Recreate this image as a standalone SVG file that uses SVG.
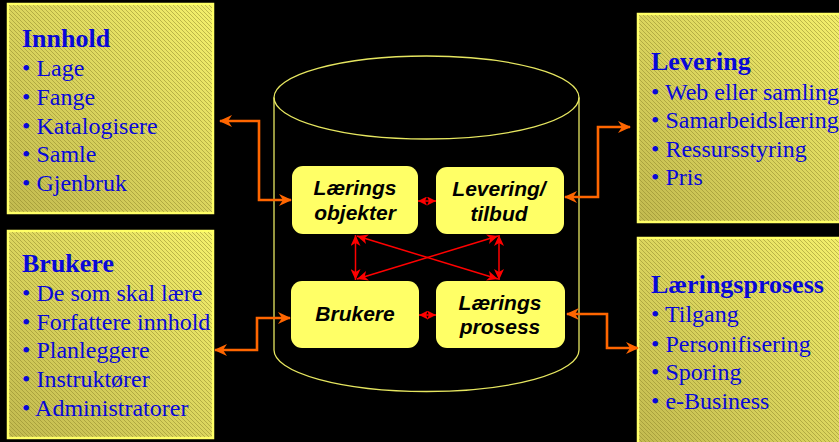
<svg xmlns="http://www.w3.org/2000/svg" width="839" height="442" viewBox="0 0 839 442">
<style>
.panel{stroke:#FFFF66;stroke-width:2.5}
.hatch{stroke:none}
.ttl{font-family:"Liberation Serif","Times New Roman",serif;font-weight:bold;font-size:26px;fill:#0808D8}
.itm{font-family:"Liberation Serif","Times New Roman",serif;font-size:24px;fill:#0808D8}
.node{fill:#FFFF66;stroke:none}
.lbl{font-family:"Liberation Sans",Arial,sans-serif;font-weight:bold;font-style:italic;font-size:21px;fill:#000;text-anchor:middle}
.cyl{fill:none;stroke:#E6E660;stroke-width:1.3}
.org{fill:none;stroke:#FF6600;stroke-width:2.6;marker-start:url(#ao);marker-end:url(#ao)}
.red{fill:none;stroke:#FF0000;stroke-width:1.5;marker-start:url(#ar);marker-end:url(#ar)}
.reds{fill:none;stroke:#FF0000;stroke-width:1.5;marker-start:url(#as);marker-end:url(#as)}
</style>
<defs>
<linearGradient id="g" x1="1" y1="0" x2="0" y2="1">
<stop offset="0" stop-color="#F4F06C"/>
<stop offset="1" stop-color="#C2BA50"/>
</linearGradient>
<pattern id="h" patternUnits="userSpaceOnUse" width="4" height="4">
<path d="M-1,-1 L5,5 M-1,3 L1,5 M3,-1 L5,1" stroke="#8C8428" stroke-opacity="0.5" stroke-width="1"/>
</pattern>
<marker id="ao" viewBox="0 0 13 12" refX="12" refY="6" markerWidth="13" markerHeight="12" markerUnits="userSpaceOnUse" orient="auto-start-reverse">
<path d="M0,0 L13,6 L0,12 L4,6 z" fill="#FF6600"/>
</marker>
<marker id="ar" viewBox="0 0 11 10" refX="11" refY="5" markerWidth="11" markerHeight="10" markerUnits="userSpaceOnUse" orient="auto-start-reverse">
<path d="M0,0 L11,5 L0,10 L3,5 z" fill="#FF0000"/>
</marker>
<marker id="as" viewBox="0 0 9 9" refX="9" refY="4.5" markerWidth="9" markerHeight="9" markerUnits="userSpaceOnUse" orient="auto-start-reverse">
<path d="M0,0 L9,4.5 L0,9 L2,4.5 z" fill="#FF0000"/>
</marker>
</defs>
<rect x="0" y="0" width="839" height="442" fill="#000"/>

<g id="cylinder">
<ellipse class="cyl" cx="426.5" cy="97.5" rx="152.5" ry="41.5"/>
<path class="cyl" d="M274,97.5 V350 A152.5,41.5 0 0 0 579,350 V97.5"/>
</g>

<g id="innhold">
<rect x="8" y="4" width="205" height="209" fill="url(#g)" class="panel"/>
<rect x="9" y="5" width="203" height="207" fill="url(#h)" class="hatch"/>
<text class="ttl" x="22" y="47">Innhold</text>
<text class="itm" x="22" y="76">• Lage</text>
<text class="itm" x="22" y="105">• Fange</text>
<text class="itm" x="22" y="133.5">• Katalogisere</text>
<text class="itm" x="22" y="162">• Samle</text>
<text class="itm" x="22" y="191">• Gjenbruk</text>
</g>

<g id="brukere-panel">
<rect x="8" y="231" width="205" height="207" fill="url(#g)" class="panel"/>
<rect x="9" y="232" width="203" height="205" fill="url(#h)" class="hatch"/>
<text class="ttl" x="22" y="272">Brukere</text>
<text class="itm" x="22" y="301">• De som skal lære</text>
<text class="itm" x="22" y="329.5">• Forfattere innhold</text>
<text class="itm" x="22" y="358.3">• Planleggere</text>
<text class="itm" x="22" y="387">• Instruktører</text>
<text class="itm" x="22" y="416">• Administratorer</text>
</g>

<g id="levering-panel">
<rect x="638" y="14" width="210" height="208" fill="url(#g)" class="panel"/>
<rect x="639" y="15" width="208" height="206" fill="url(#h)" class="hatch"/>
<text class="ttl" x="651" y="70">Levering</text>
<text class="itm" x="651" y="100">• Web eller samling</text>
<text class="itm" x="651" y="128.3">• Samarbeidslæring</text>
<text class="itm" x="651" y="156.7">• Ressursstyring</text>
<text class="itm" x="651" y="185">• Pris</text>
</g>

<g id="laeringsprosess-panel">
<rect x="638" y="238" width="210" height="212" fill="url(#g)" class="panel"/>
<rect x="639" y="239" width="208" height="210" fill="url(#h)" class="hatch"/>
<text class="ttl" x="651" y="293.3">Læringsprosess</text>
<text class="itm" x="651" y="322.3">• Tilgang</text>
<text class="itm" x="651" y="351.7">• Personifisering</text>
<text class="itm" x="651" y="380">• Sporing</text>
<text class="itm" x="651" y="409">• e-Business</text>
</g>

<g id="laeringsobjekter">
<rect class="node" x="292" y="166" width="126" height="68" rx="11"/>
<text class="lbl" x="355" y="195">Lærings</text>
<text class="lbl" x="355" y="220">objekter</text>
</g>
<g id="levering-tilbud">
<rect class="node" x="436" y="167" width="128" height="67" rx="11"/>
<text class="lbl" x="499" y="195.5">Levering/</text>
<text class="lbl" x="499" y="221">tilbud</text>
</g>
<g id="brukere">
<rect class="node" x="291" y="281" width="128" height="67" rx="11"/>
<text class="lbl" x="355" y="321">Brukere</text>
</g>
<g id="laeringsprosess">
<rect class="node" x="436" y="281" width="129" height="67" rx="11"/>
<text class="lbl" x="500" y="309.5">Lærings</text>
<text class="lbl" x="500" y="334">prosess</text>
</g>

<g id="connectors">
<path class="org" d="M220,121 H259 V200 H291"/>
<path class="org" d="M215,350 H257 V318 H290"/>
<path class="org" d="M565,197 H598 V127 H630"/>
<path class="org" d="M567,314 H607 V348 H638"/>
<path class="reds" d="M418,201 H436"/>
<path class="reds" d="M419,315 H436"/>
<path class="red" d="M355.5,235 V280"/>
<path class="red" d="M499,235 V280"/>
<path class="red" d="M357,236 L498,279"/>
<path class="red" d="M498,236 L357,279"/>
</g>
</svg>
